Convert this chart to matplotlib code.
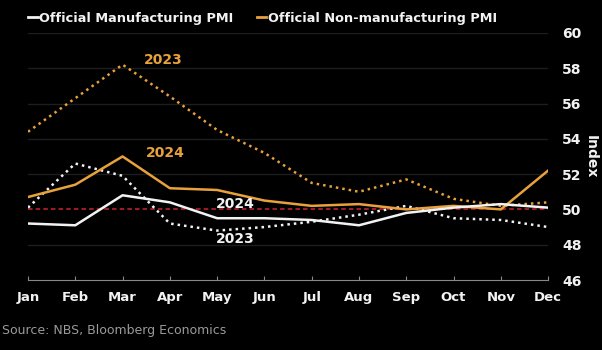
import matplotlib
matplotlib.use("Agg")
import matplotlib.pyplot as plt
from matplotlib.lines import Line2D

months = ["Jan", "Feb", "Mar", "Apr", "May", "Jun", "Jul", "Aug", "Sep", "Oct", "Nov", "Dec"]
mfg_2023 = [50.1, 52.6, 51.9, 49.2, 48.8, 49.0, 49.3, 49.7, 50.2, 49.5, 49.4, 49.0]
mfg_2024 = [49.2, 49.1, 50.8, 50.4, 49.5, 49.5, 49.4, 49.1, 49.8, 50.1, 50.3, 50.1]
nonmfg_2023 = [54.4, 56.3, 58.2, 56.4, 54.5, 53.2, 51.5, 51.0, 51.7, 50.6, 50.2, 50.4]
nonmfg_2024 = [50.7, 51.4, 53.0, 51.2, 51.1, 50.5, 50.2, 50.3, 50.0, 50.2, 50.0, 52.2]
yticks = [46, 48, 50, 52, 54, 56, 58, 60]

orange = "#E9A23B"
white = "#F2F2F2"
bg = "black"

fig = plt.figure(figsize=(6.02, 3.5), dpi=100, facecolor=bg)
ax = fig.add_axes([0.0465, 0.2, 0.864, 0.706], facecolor=bg)

x = list(range(len(months)))

# gridlines (50 gets the red dashed line instead)
for y in yticks:
    if y in (46, 50):
        continue
    ax.axhline(y, color="#1e1e1e", lw=1, zorder=0)
ax.axhline(50, color="#C8262B", lw=1.1, ls=(0, (3, 2)), zorder=1)

ax.plot(x, nonmfg_2023, color=orange, lw=1.8, ls=(0, (1, 1.6)), zorder=2)
ax.plot(x, mfg_2023, color=white, lw=1.8, ls=(0, (1, 1.6)), zorder=2)
ax.plot(x, nonmfg_2024, color=orange, lw=1.8, zorder=3)
ax.plot(x, mfg_2024, color=white, lw=1.8, zorder=3)

lab = dict(fontsize=10, fontweight="bold", ha="center", va="center")
ax.text(2.85, 58.45, "2023", color=orange, **lab)
ax.text(2.9, 53.2, "2024", color=orange, **lab)
ax.text(4.38, 50.3, "2024", color=white, **lab)
ax.text(4.38, 48.3, "2023", color=white, **lab)

ax.set_xlim(0, 11)
ax.set_ylim(46, 60)
ax.set_xticks(x)
ax.set_xticklabels(months)
ax.set_yticks(yticks)
ax.yaxis.tick_right()
ax.yaxis.set_label_position("right")
ax.set_ylabel("Index", color=white, fontsize=10, fontweight="bold", rotation=270, labelpad=12)

for s in ["top", "left", "right"]:
    ax.spines[s].set_visible(False)
ax.spines["bottom"].set_color("#888888")
ax.tick_params(axis="x", direction="in", length=3, color="#888888", colors=white,
               labelsize=9.5, pad=8)
ax.tick_params(axis="y", length=0, colors=white, labelsize=10, pad=10)
for t in ax.get_xticklabels() + ax.get_yticklabels():
    t.set_fontweight("bold")

handles = [Line2D([0], [0], color=white, lw=2),
           Line2D([0], [0], color=orange, lw=2)]
leg = fig.legend(handles, ["Official Manufacturing PMI", "Official Non-manufacturing PMI"],
                 loc="upper left", bbox_to_anchor=(0.028, 1.0), ncol=2, frameon=False,
                 handlelength=0.7, handletextpad=0.15, columnspacing=1.8,
                 prop={"size": 9.3, "weight": "bold"})
for t in leg.get_texts():
    t.set_color(white)

fig.text(0.003, 0.055, "Source: NBS, Bloomberg Economics", color="#9a9a9a", fontsize=9,
         ha="left", va="center")

fig.savefig("out.png", dpi=100, facecolor=bg)
